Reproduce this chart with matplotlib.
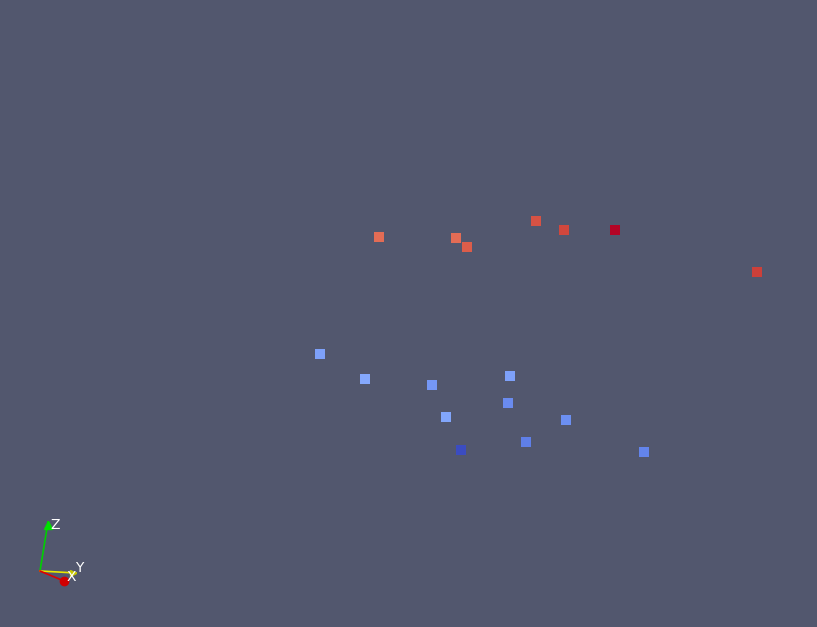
import numpy as np
import matplotlib
matplotlib.use("Agg")
import matplotlib.pyplot as plt

# point positions as seen in the view (pixels) and the scalar used for colouring
point_x = [379, 456, 467, 536, 564, 615, 757,
           320, 365, 432, 510, 508, 446, 566, 526, 461, 644]
point_y = [237, 238, 247, 221, 230, 230, 272,
           354, 379, 385, 376, 403, 417, 420, 442, 450, 452]
point_value = [0.85, 0.85, 0.88, 0.90, 0.92, 1.00, 0.93,
               0.21, 0.23, 0.18, 0.21, 0.15, 0.22, 0.16, 0.12, 0.00, 0.13]

bg_color = '#52576e'

fig = plt.figure(figsize=(8.17, 6.27), dpi=100, facecolor=bg_color)
axis = fig.add_axes([0, 0, 1, 1])
axis.set_facecolor(bg_color)
axis.set_xlim(0, 817)
axis.set_ylim(627, 0)
axis.axis('off')

axis.scatter(point_x, point_y, c=point_value, cmap='coolwarm', vmin=0, vmax=1,
             marker='s', s=60, linewidths=0)

## orientation triad (bottom left corner)
origin = (40, 571)
axis.plot([origin[0], 48], [origin[1], 522], color='#00d000', linewidth=1.2)
axis.plot(48, 525, marker='^', color='#00e000', markersize=6)
axis.plot([origin[0], 76], [origin[1], 573], color='#e8e800', linewidth=1.2)
axis.plot(73, 573, marker='>', color='#c8c800', markersize=5)
axis.plot([origin[0], 64], [origin[1], 581], color='#e00000', linewidth=1.2)
axis.plot(64, 581, marker='o', color='#d00000', markersize=6)
axis.text(50, 525, 'Z', color='white', fontsize=10, va='center', ha='left')
axis.text(75, 568, 'Y', color='white', fontsize=10, va='center', ha='left')
axis.text(67, 577, 'X', color='white', fontsize=10, va='center', ha='left')

fig.savefig('out.png', dpi=100, facecolor=bg_color)
